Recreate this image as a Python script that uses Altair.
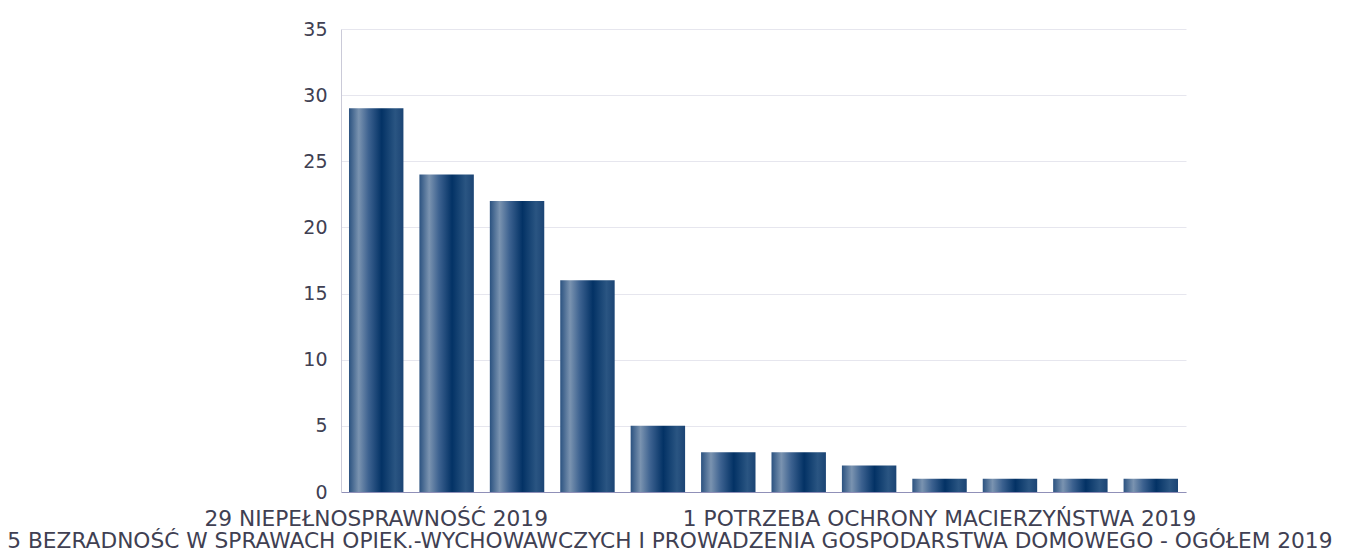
import json
import altair as alt
import pandas as pd

# ---- data ----
categories = [
    "Niepełnosprawność",
    "Ubóstwo",
    "Długotrwała lub ciężka choroba",
    "Bezrobocie",
    "Bezradność w sprawach opiek.-wychowawczych i prowadzenia gospodarstwa domowego - ogółem",
    "Alkoholizm",
    "Przemoc w rodzinie",
    "Bezdomność",
    "Potrzeba ochrony macierzyństwa",
    "Zdarzenie losowe",
    "Sytuacja kryzysowa",
    "Trudności w przystosowaniu do życia po zwolnieniu z zakładu karnego",
]
values = [29, 24, 22, 16, 5, 3, 3, 2, 1, 1, 1, 1]
year = 2019
y_ticks = [0, 5, 10, 15, 20, 25, 30, 35]
shown_line1 = [0, 8]   # labels visible on first line
shown_line2 = [4]      # labels visible on second line

labels = [f"{v} {c.upper()} {year}" for v, c in zip(values, categories)]
df = pd.DataFrame({"label": labels, "value": values})

line1 = json.dumps([labels[i] for i in shown_line1], ensure_ascii=False)
line2 = json.dumps([labels[i] for i in shown_line2], ensure_ascii=False)
label_expr = (
    f"indexof({line1}, datum.value) >= 0 ? datum.value : "
    f"(indexof({line2}, datum.value) >= 0 ? ['', datum.value] : '')"
)
line2_test = f"indexof({line2}, datum.value) >= 0"

gradient = alt.Gradient(
    gradient="linear",
    x1=0, x2=1, y1=0, y2=0,
    stops=[
        alt.GradientStop(color="#2b5280", offset=0),
        alt.GradientStop(color="#7a93b0", offset=0.18),
        alt.GradientStop(color="#3d6290", offset=0.36),
        alt.GradientStop(color="#033265", offset=0.6),
        alt.GradientStop(color="#2a5582", offset=0.85),
        alt.GradientStop(color="#1b4474", offset=1),
    ],
)

FONT = "DejaVu Sans"
TXT = "#404052"

chart = (
    alt.Chart(df)
    .mark_bar(color=gradient)
    .encode(
        x=alt.X(
            "label:N",
            sort=None,
            title=None,
            scale=alt.Scale(paddingInner=0.227, paddingOuter=0.1135),
            axis=alt.Axis(
                labelExpr=label_expr,
                labelAngle=0,
                labelFont=FONT,
                labelFontSize=21.7,
                labelColor=TXT,
                labelLineHeight=22,
                labelPadding=16,
                labelOffset={"condition": {"test": line2_test, "value": 12}, "value": 0},
                labelOverlap=False,
                labelBound=False,
                labelFlush=False,
                labelLimit=0,
                ticks=False,
                domainColor="#9090b8",
                domainWidth=1,
                grid=False,
            ),
        ),
        y=alt.Y(
            "value:Q",
            title=None,
            scale=alt.Scale(domain=[0, 35], nice=False),
            axis=alt.Axis(
                values=y_ticks,
                labelFont=FONT,
                labelFontSize=19,
                labelColor=TXT,
                labelPadding=14,
                ticks=False,
                domainColor="#cacad8",
                gridColor="#e6e6ee",
            ),
        ),
    )
    .properties(
        width=845,
        height=463,
        autosize=alt.AutoSizeParams(type="none"),
        padding={"left": 333, "top": 21, "right": 155, "bottom": 70},
    )
    .configure_view(stroke=None)
)

chart.save("out.html", embed_options={"renderer": "svg", "actions": False})
